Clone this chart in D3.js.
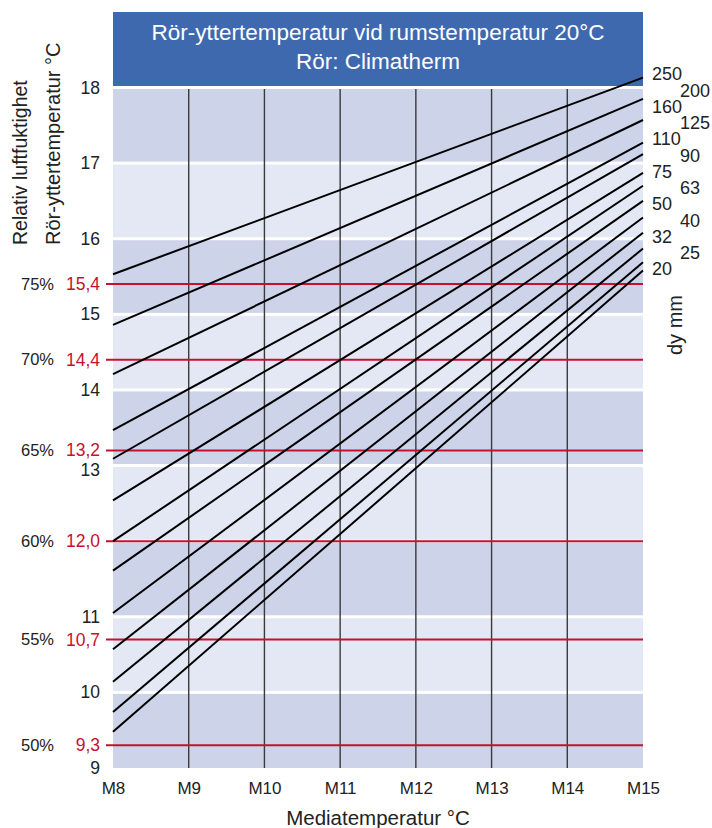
<!DOCTYPE html>
<html>
<head>
<meta charset="utf-8">
<script src="https://cdn.jsdelivr.net/npm/d3@7"></script>
<style>
  html, body { margin: 0; padding: 0; background: #fff; }
  svg { display: block; font-family: "Liberation Sans", Arial, sans-serif; }
</style>
</head>
<body>
<svg id="chart" width="712" height="828"></svg>
<script>
// Pipe outer-surface temperature vs. media temperature, one line per pipe size
const diameters = [250, 200, 160, 125, 110, 90, 75, 63, 50, 40, 32, 25, 20];
const tempAtM8  = [15.53, 14.86, 14.21, 13.47, 13.09, 12.54, 12.0, 11.61, 11.05, 10.57, 10.14, 9.74, 9.48];
const tempAtM15 = [18.13, 17.85, 17.57, 17.27, 17.12, 16.87, 16.70, 16.50, 16.28, 16.08, 15.87, 15.69, 15.58];

const mediaTicks = [8, 9, 10, 11, 12, 13, 14, 15];
const mediaLabels = ["M8", "M9", "M10", "M11", "M12", "M13", "M14", "M15"];

const tempTicks = [9, 10, 11, 13, 14, 15, 16, 17, 18];
const humidityLabels = ["75%", "70%", "65%", "60%", "55%", "50%"];
const dewPoints = [15.4, 14.4, 13.2, 12.0, 10.7, 9.3];
const dewPointLabels = ["15,4", "14,4", "13,2", "12,0", "10,7", "9,3"];

const svg = d3.select("#chart");
const x = d3.scaleLinear().domain([8, 15]).range([113, 643]);
const y = d3.scaleLinear().domain([9, 18]).range([768, 87.5]);

const BLUE = "#3f69ae", DARK = "#cdd3e8", LIGHT = "#e4e8f5", RED = "#c8102e", TEXT = "#222";

// Title box
svg.append("rect").attr("x", x(8)).attr("y", 12).attr("width", x(15) - x(8)).attr("height", 74).attr("fill", BLUE);
const title = svg.append("text").attr("fill", "#fff").attr("text-anchor", "middle").attr("font-size", 22.5);
title.append("tspan").attr("x", (x(8) + x(15)) / 2).attr("y", 40).text("Rör-yttertemperatur vid rumstemperatur 20°C");
title.append("tspan").attr("x", (x(8) + x(15)) / 2).attr("y", 69).text("Rör: Climatherm");

// Alternating horizontal bands, separated by thin white gaps at each degree
const bands = d3.range(9, 18);
svg.append("g").selectAll("rect").data(bands).join("rect")
  .attr("x", x(8)).attr("width", x(15) - x(8))
  .attr("y", d => y(d + 1) + 1.5)
  .attr("height", d => y(d) - y(d + 1) - (d === 9 ? 1.5 : 3))
  .attr("fill", d => (17 - d) % 2 === 0 ? DARK : LIGHT);

// Vertical grid lines
svg.append("g").selectAll("line").data(mediaTicks.slice(1, -1)).join("line")
  .attr("x1", d => x(d)).attr("x2", d => x(d))
  .attr("y1", y(18) + 1.5).attr("y2", y(9))
  .attr("stroke", "#3a3a3a").attr("stroke-width", 1.4);

// Dew-point lines with relative humidity labels
const dp = svg.append("g");
dp.selectAll("line").data(dewPoints).join("line")
  .attr("x1", 106).attr("x2", x(15))
  .attr("y1", d => y(d)).attr("y2", d => y(d))
  .attr("stroke", RED).attr("stroke-width", 2);
dp.selectAll("text.dp").data(dewPoints).join("text").attr("class", "dp")
  .attr("x", 100).attr("y", d => y(d)).attr("dy", d => d === 13.2 ? "0.3em" : "0.35em")
  .attr("text-anchor", "end").attr("font-size", 17.5).attr("fill", RED)
  .text((d, i) => dewPointLabels[i]);
dp.selectAll("text.rh").data(dewPoints).join("text").attr("class", "rh")
  .attr("x", 54).attr("y", d => y(d)).attr("dy", "0.35em")
  .attr("text-anchor", "end").attr("font-size", 16.5).attr("fill", TEXT)
  .text((d, i) => humidityLabels[i]);

// Temperature axis labels
const yAxis = d3.axisLeft(y).tickValues(tempTicks).tickSize(0).tickPadding(0).tickFormat(d3.format("d"));
const yg = svg.append("g").attr("transform", "translate(100,0)").call(yAxis);
yg.select(".domain").remove();
yg.selectAll("text").attr("font-size", 17.5).attr("fill", TEXT).attr("font-family", "Liberation Sans, Arial, sans-serif")
  .attr("dy", d => d === 13 ? "0.55em" : "0.32em");

// Media temperature axis labels
const xAxis = d3.axisBottom(x).tickValues(mediaTicks).tickSize(0).tickPadding(0)
  .tickFormat((d, i) => mediaLabels[i]);
const xg = svg.append("g").attr("transform", "translate(0,782)").call(xAxis);
xg.select(".domain").remove();
xg.selectAll("text").attr("font-size", 17).attr("fill", TEXT).attr("font-family", "Liberation Sans, Arial, sans-serif");

// Pipe size lines
const line = d3.line().x(d => x(d[0])).y(d => y(d[1]));
svg.append("g").selectAll("path").data(diameters).join("path")
  .attr("d", (d, i) => line([[8, tempAtM8[i]], [15, tempAtM15[i]]]))
  .attr("fill", "none").attr("stroke", "#000").attr("stroke-width", 2);

// Pipe size legend on the right
svg.append("g").selectAll("text").data(diameters).join("text")
  .attr("x", (d, i) => i % 2 === 0 ? 652 : 680)
  .attr("y", (d, i) => 74 + i * 16.25).attr("dy", "0.35em")
  .attr("font-size", 18).attr("fill", TEXT)
  .text(d => d);

// Axis titles
svg.append("text").attr("transform", "translate(675,325) rotate(-90)")
  .attr("text-anchor", "middle").attr("dy", "0.35em").attr("font-size", 20).attr("fill", TEXT).text("dy mm");
svg.append("text").attr("transform", "translate(27,245) rotate(-90)")
  .attr("font-size", 19.5).attr("fill", TEXT).text("Relativ luftfuktighet");
svg.append("text").attr("transform", "translate(60,245) rotate(-90)")
  .attr("font-size", 20).attr("fill", TEXT).text("Rör-yttertemperatur °C");
svg.append("text").attr("x", (x(8) + x(15)) / 2).attr("y", 825)
  .attr("text-anchor", "middle").attr("font-size", 20.5).attr("fill", TEXT).text("Mediatemperatur °C");
</script>
</body>
</html>
